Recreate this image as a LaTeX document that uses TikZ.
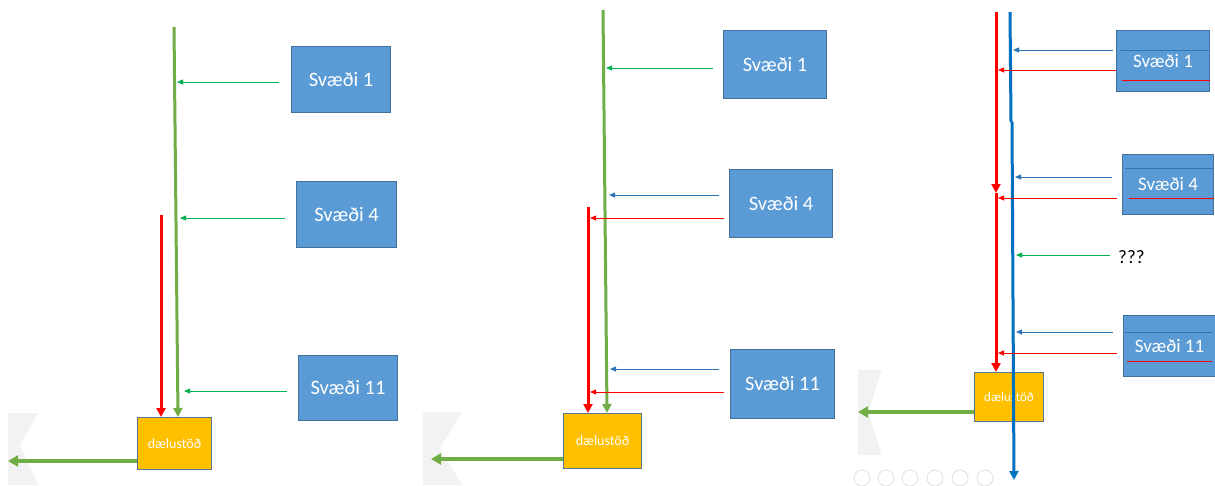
\documentclass[tikz,border=0pt]{standalone}
\usepackage{fontspec}
\setmainfont{Carlito}
\usetikzlibrary{arrows.meta}
\definecolor{boxblue}{HTML}{5B9BD5}
\definecolor{boxedge}{HTML}{41719C}
\definecolor{pgreen}{HTML}{70AD47}
\definecolor{tgreen}{HTML}{00B050}
\definecolor{pred}{HTML}{FF0000}
\definecolor{pblue}{HTML}{0070C0}
\definecolor{tblue}{HTML}{2E75B6}
\definecolor{porange}{HTML}{FFC000}
\definecolor{faint}{HTML}{F2F2F2}
\begin{document}
\begin{tikzpicture}[x=1pt,y=-1pt,
  zone/.style={draw=boxedge, fill=boxblue, line width=1pt, text=white,
    font=\fontsize{20.5}{22}\selectfont, inner sep=0pt, anchor=north west},
  zonesm/.style={zone, font=\fontsize{19}{21}\selectfont},
  pump/.style={draw=boxedge!70!gray, fill=porange, line width=1pt, text=white,
    font=\fontsize{14}{16}\selectfont, inner sep=0pt, anchor=north west},
  mainline/.style={line width=3pt, -{Triangle[length=9pt,width=9pt]}},
  outline/.style={line width=3.5pt, -{Triangle[length=10pt,width=11pt]}},
  feed/.style={line width=0.8pt, -{Triangle[length=6pt,width=5pt]}},
  inline/.style={line width=0.8pt}
]
\useasboundingbox (0,0) rectangle (1215,485);
\fill[white] (0,0) rectangle (1215,485);

% faint background artefacts
\fill[faint] (8,413) -- (38,413) -- (20,445) -- (38,485) -- (8,485) -- cycle;
\fill[faint] (423,412) -- (462,412) -- (440,448) -- (462,485) -- (423,485) -- cycle;
\fill[faint] (858,370) -- (882,370) -- (868,412) -- (882,455) -- (858,455) -- cycle;
\foreach \cx in {862,886,910,935,960,985}
  \draw[gray!25, line width=0.8pt] (\cx,478) circle (8);

% ===== Panel 1 =====
\node[zone, minimum width=99pt, minimum height=66pt] (aS1) at (291,46) {Svæði 1};
\node[zone, minimum width=100pt, minimum height=66pt] (aS4) at (296,181) {Svæði 4};
\node[zone, minimum width=99pt, minimum height=65pt] (aS11) at (298,355) {Svæði 11};
\node[pump, minimum width=74pt, minimum height=52pt] (aP) at (137,417) {dælustöð};
\coordinate (aGt) at (174,27);
\coordinate (aGb) at (178,417);
\coordinate (aRt) at (161,215);
\coordinate (aRb) at (161,417);
\coordinate (aOut) at (8,461);
\draw[mainline, pgreen] (aGt) -- (aGb);
\draw[mainline, pred] (aRt) -- (aRb);
\coordinate (a1) at (177,82);
\coordinate (a4) at (180,218);
\coordinate (a11) at (184,391);
\draw[feed, tgreen] ([xshift=-12pt]aS1.west |- a1) -- (a1);
\draw[feed, tgreen] ([xshift=-11pt]aS4.west |- a4) -- (a4);
\draw[feed, tgreen] ([xshift=-11pt]aS11.west |- a11) -- (a11);
\draw[outline, pgreen] (aP.west |- aOut) -- (aOut);

% ===== Panel 2 =====
\node[zone, minimum width=103pt, minimum height=68pt] (bS1) at (723,30) {Svæði 1};
\node[zone, minimum width=103pt, minimum height=68pt] (bS4) at (729,169) {Svæði 4};
\node[zone, minimum width=104pt, minimum height=69pt] (bS11) at (730,349) {Svæði 11};
\node[pump, minimum width=78pt, minimum height=55pt] (bP) at (563,413) {dælustöð};
\coordinate (bGt) at (603,10);
\coordinate (bGb) at (607,413);
\coordinate (bRt) at (588,207);
\coordinate (bRb) at (588,413);
\coordinate (bOut) at (431,459);
\draw[mainline, pgreen] (bGt) -- (bGb);
\draw[mainline, pred] (bRt) -- (bRb);
\coordinate (b1g) at (606,68);
\coordinate (b4b) at (609,195);
\coordinate (b4r) at (590,218);
\coordinate (b11b) at (610,369);
\coordinate (b11r) at (590,392);
\draw[feed, tgreen] ([xshift=-10pt]bS1.west |- b1g) -- (b1g);
\draw[feed, tblue] ([xshift=-10pt]bS4.west |- b4b) -- (b4b);
\draw[feed, pred] ([xshift=-5pt]bS4.west |- b4r) -- (b4r);
\draw[feed, tblue] ([xshift=-11pt]bS11.west |- b11b) -- (b11b);
\draw[feed, pred] ([xshift=-6pt]bS11.west |- b11r) -- (b11r);
\draw[outline, pgreen] (bP.west |- bOut) -- (bOut);

% ===== Panel 3 =====
\node[zonesm, minimum width=93pt, minimum height=61pt] (cS1) at (1116,30) {\raisebox{-2pt}{Svæði 1}};
\node[zonesm, minimum width=91pt, minimum height=60pt] (cS4) at (1122,154) {\raisebox{-2pt}{Svæði 4}};
\node[zonesm, minimum width=92pt, minimum height=61pt] (cS11) at (1123,315) {\raisebox{-2pt}{Svæði 11}};
\draw[inline, tblue] (1120,50) -- (cS1.east |- 0,50);
\draw[inline, pred] (1122,80) -- (cS1.east |- 0,80);
\draw[inline, tblue] (1125,168) -- (cS4.east |- 0,168);
\draw[inline, pred] (1129,198) -- (cS4.east |- 0,198);
\draw[inline, tblue] (1125,332) -- (1212,332);
\draw[inline, pred] (1127,361) -- (1212,361);
\node[pump, minimum width=69pt, minimum height=49pt, font=\fontsize{13}{15}\selectfont] (cP) at (974,372) {dælustöð};
\node[anchor=west, font=\fontsize{19}{21}\selectfont, inner sep=0pt] (cQ) at (1118,257) {???};
\coordinate (cRt) at (996,12);
\coordinate (cRm) at (996,193);
\coordinate (cRb) at (996,372);
\coordinate (cBt) at (1010,12);
\coordinate (cBm) at (1011,122);
\coordinate (cBn) at (1012,122);
\coordinate (cBb) at (1014,480);
\coordinate (cOut) at (858,412);
\draw[mainline, pred] (cRt) -- (cRm);
\draw[mainline, pred] (cRm) -- (cRb);
\draw[line width=3pt, pblue] (cBt) -- (cBm);
\draw[mainline, pblue] (cBn) -- (cBb);
\coordinate (c1b) at (1013,50);
\coordinate (c1r) at (998,70);
\coordinate (c4b) at (1015,177);
\coordinate (c4r) at (998,198);
\coordinate (cqg) at (1016,255);
\coordinate (c11b) at (1016,332);
\coordinate (c11r) at (998,353);
\draw[feed, tblue] ([xshift=-3pt]cS1.west |- c1b) -- (c1b);
\draw[feed, pred] (cS1.west |- c1r) -- (c1r);
\draw[feed, tblue] ([xshift=-10pt]cS4.west |- c4b) -- (c4b);
\draw[feed, pred] ([xshift=-5pt]cS4.west |- c4r) -- (c4r);
\draw[feed, tgreen] ([xshift=-8pt]cQ.west |- cqg) -- (cqg);
\draw[feed, tblue] ([xshift=-10pt]cS11.west |- c11b) -- (c11b);
\draw[feed, pred] ([xshift=-6pt]cS11.west |- c11r) -- (c11r);
\draw[outline, pgreen] (cP.west |- cOut) -- (cOut);
\end{tikzpicture}
\end{document}
